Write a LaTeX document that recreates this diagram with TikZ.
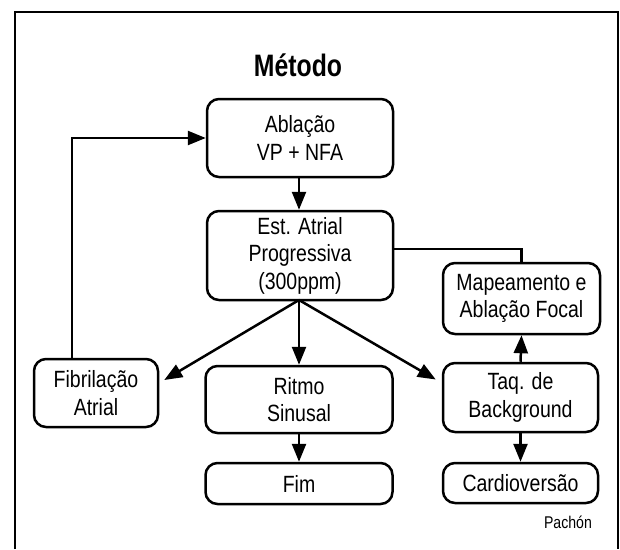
\documentclass[tikz,border=0pt]{standalone}
\usepackage{fontspec}
\setmainfont{Liberation Sans}[FakeStretch=0.83]
\usetikzlibrary{arrows.meta,calc}
\begin{document}
\begin{tikzpicture}[x=1pt,y=-1pt,
  box/.style={draw, line width=2.5pt, rounded corners=12pt, align=center, inner sep=0pt,
    font=\fontsize{23.5}{27.5}\selectfont},
  arr/.style={line width=2.5pt, -{Triangle[length=18pt,width=14pt]}},
  ln/.style={line width=2.5pt}]
\useasboundingbox (0,0) rectangle (620,549);
\draw[line width=1.8pt] (15,549) -- (15,12) -- (618,12) -- (618,549);
\node[font=\fontsize{31}{36}\bfseries\addfontfeature{FakeStretch=0.8}\selectfont] (title) at (298,65) {Método};
\node[box, minimum width=186pt, minimum height=78pt] (abl) at (300,138) {Ablação\\VP + NFA};
\node[box, minimum width=186pt, minimum height=89pt] (est) at (300,255.5) {Est. Atrial\\Progressiva\\(300ppm)};
\node[box, minimum width=124pt, minimum height=68pt] (fib) at (96,393) {Fibrilação\\Atrial};
\node[box, minimum width=187pt, minimum height=67pt] (rit) at (299,399.5) {Ritmo\\Sinusal};
\node[box, minimum width=187pt, minimum height=41pt] (fim) at (299,483.5) {Fim};
\node[box, minimum width=157pt, minimum height=71pt] (map) at (521.5,298.5) {Mapeamento e\\Ablação Focal};
\node[box, minimum width=155pt, minimum height=69pt] (taq) at (520.5,397.5) {Taq. de\\Background};
\node[box, minimum width=155pt, minimum height=40pt] (car) at (520.5,483) {Cardioversão};
\node[font=\fontsize{17}{20}\selectfont] (pac) at (568,522) {Pachón};
\coordinate (lp) at (72,0);
\coordinate (es) at (299,300);
\draw[arr] (abl.south -| es) -- (est.north -| es);
\draw[arr] (fib.north -| lp) |- (abl.west);
\draw[arr] (es) -- ($(fib.east)+(5,-13)$);
\draw[arr] (es) -- (rit.north -| es);
\draw[arr] (es) -- ($(taq.west)+(-6,-18)$);
\draw[arr] (rit.south -| es) -- (fim.north -| es);
\draw[ln] ($(est.east)+(0,-6.5)$) -| (map.north);
\draw[arr] (taq.north) -- (map.south);
\draw[arr] (taq.south) -- (car.north);
\end{tikzpicture}
\end{document}
